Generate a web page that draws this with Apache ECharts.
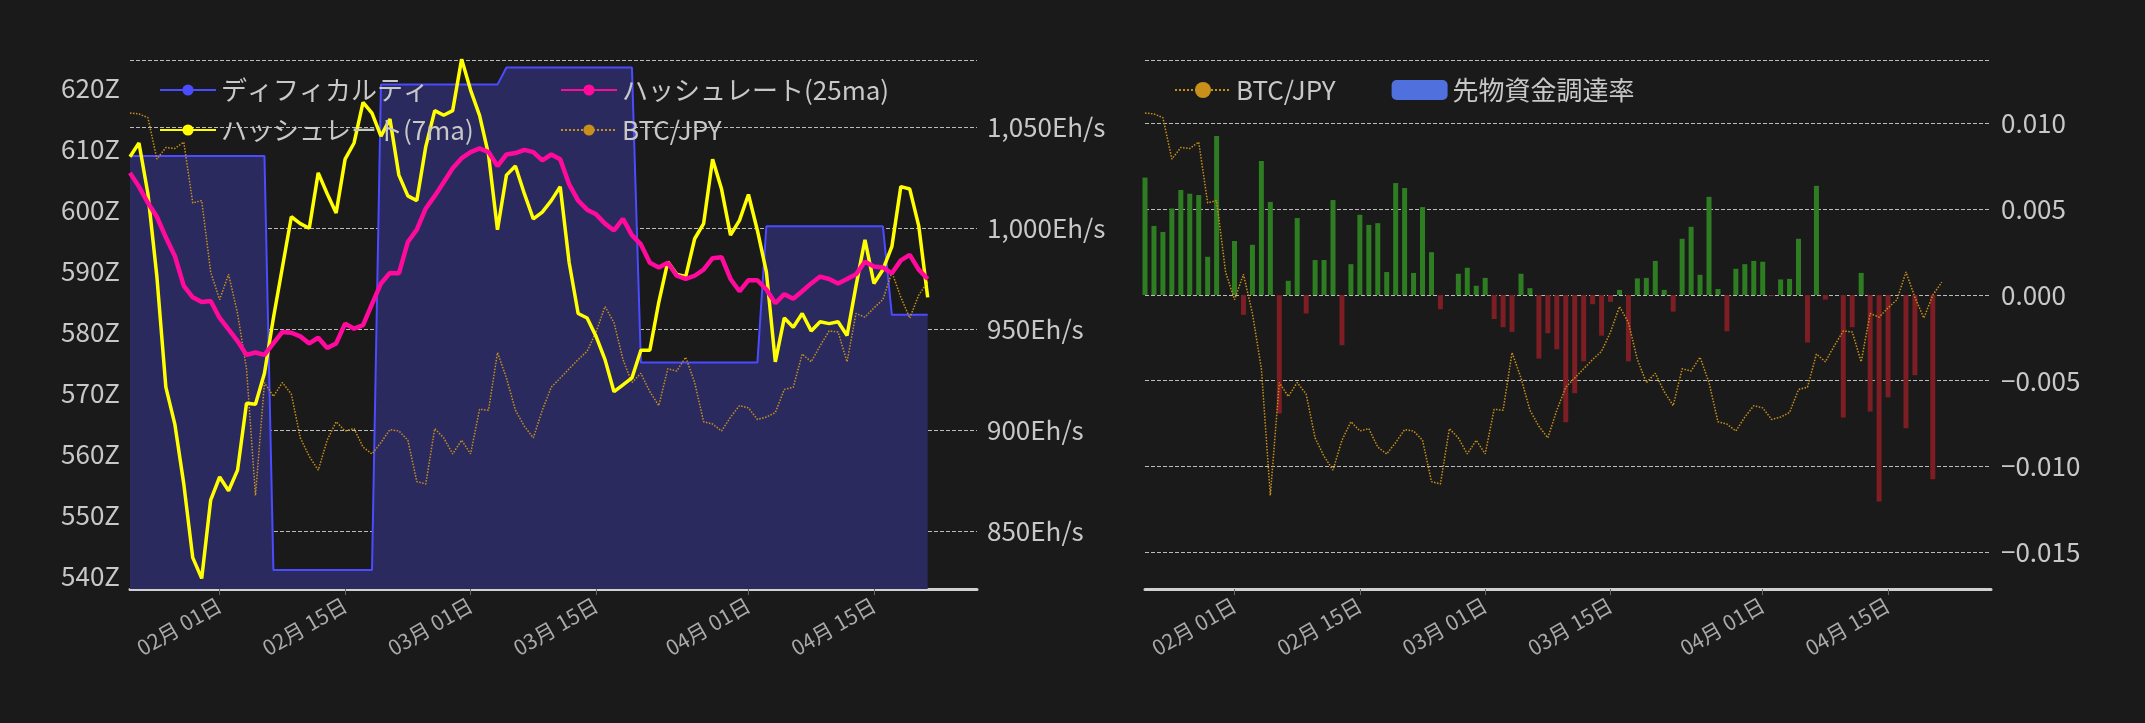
<!DOCTYPE html>
<html><head><meta charset="utf-8">
<script src="https://cdn.jsdelivr.net/npm/echarts@6/dist/echarts.min.js"></script>
<style>html,body{margin:0;background:#1a1a1a}#c{width:2145px;height:723px}</style>
</head><body><div id="c"></div>
<script>
const startDate = Date.UTC(2023,0,22);
const tickDates = ['2023-02-01','2023-02-15','2023-03-01','2023-03-15','2023-04-01','2023-04-15'];
const difficulty = [608.8,608.8,608.8,608.8,608.8,608.8,608.8,608.8,608.8,608.8,608.8,608.8,608.8,608.8,608.8,608.8,
541.0,541.0,541.0,541.0,541.0,541.0,541.0,541.0,541.0,541.0,541.0,541.0,
620.5,620.5,620.5,620.5,620.5,620.5,620.5,620.5,620.5,620.5,620.5,620.5,620.5,620.5,
623.3,623.3,623.3,623.3,623.3,623.3,623.3,623.3,623.3,623.3,623.3,623.3,623.3,623.3,623.3,
575.0,575.0,575.0,575.0,575.0,575.0,575.0,575.0,575.0,575.0,575.0,575.0,575.0,575.0,
597.3,597.3,597.3,597.3,597.3,597.3,597.3,597.3,597.3,597.3,597.3,597.3,597.3,597.3,
582.8,582.8,582.8,582.8,582.8];
const hash7 = [1035.2,1042.0,1016.9,975.9,921.2,902.9,873.3,836.8,826.5,865.3,876.7,869.9,880.1,913.2,912.7,928.0,955.4,980.4,1005.5,1002.1,999.8,1027.2,1016.9,1007.4,1034.0,1042.0,1062.1,1056.8,1045.4,1053.9,1026.1,1015.8,1013.5,1040.2,1058.0,1055.7,1058.0,1083.5,1068.2,1055.7,1036.3,999.1,1026.1,1030.6,1016.9,1004.4,1007.8,1013.5,1020.4,982.7,957.6,955.4,946.3,934.8,918.9,922.3,925.7,939.4,939.4,963.3,983.2,977.0,975.9,994.6,1002.1,1034.0,1019.2,996.4,1003.7,1016.5,998.7,978.2,933.7,955.4,950.8,957.6,949.0,953.5,952.6,953.5,946.7,971.3,994.1,972.5,979.3,990.7,1020.4,1019.2,1001.0,965.6];
const hash25 = [1027.2,1020.4,1012.4,1005.5,995.3,986.1,971.3,965.6,963.3,963.8,955.4,949.7,944.0,937.1,938.3,937.1,942.8,948.5,948.1,946.3,942.8,945.6,940.5,942.8,952.6,950.1,951.9,962.2,972.5,977.7,977.5,993.0,999.1,1009.6,1015.8,1022.6,1029.5,1034.5,1037.5,1039.3,1037.5,1030.6,1036.3,1037.0,1038.6,1037.5,1033.4,1036.3,1034.0,1021.5,1013.5,1009.0,1006.7,1002.1,998.7,1004.4,996.4,991.8,982.7,980.4,982.7,976.3,974.7,976.3,979.3,985.0,985.5,974.7,968.6,974.1,974.1,969.5,962.7,967.2,964.9,968.6,972.5,975.9,974.7,972.5,974.7,977.0,983.2,980.9,980.4,977.5,983.9,986.6,979.3,974.7];
const btcjpy = [3299000,3298000,3294000,3249500,3261900,3260900,3267800,3202400,3204900,3128200,3098500,3125700,3083600,3024200,2888100,3009400,2994500,3009400,2997000,2950000,2930200,2915300,2947500,2967300,2957400,2959900,2940100,2932700,2945000,2958900,2957400,2947500,2903000,2900500,2959900,2950000,2932700,2947500,2932700,2980700,2979700,3041600,3014300,2979700,2962400,2950000,2979700,3004400,3014300,3024200,3034100,3043000,3063800,3091100,3073800,3034100,3009400,3019300,2999500,2984600,3024200,3021800,3036600,3009400,2967300,2964800,2957400,2972300,2984600,2982200,2969800,2972300,2977200,3002000,3004400,3040100,3031700,3049000,3064800,3063800,3031700,3083600,3079700,3089600,3098500,3128200,3101000,3078700,3103400,3117300];
const funding = [0.00685,0.00403,0.00368,0.00505,0.00613,0.00591,0.00583,0.00223,0.00927,0,0.00315,-0.00116,0.00293,0.00782,0.00543,-0.00691,0.00083,0.00449,-0.00108,0.00204,0.00204,0.00554,-0.00293,0.0018,0.00468,0.00409,0.00419,0.00134,0.00653,0.00624,0.00129,0.00513,0.0025,-0.00083,0,0.00124,0.00159,0.00054,0.001,-0.0014,-0.00188,-0.00215,0.00124,0.0004,-0.00371,-0.00223,-0.00317,-0.00742,-0.00573,-0.00387,-0.00054,-0.00237,-0.0004,0.0003,-0.00387,0.00097,0.001,0.00199,0.0003,-0.00097,0.00328,0.00398,0.00118,0.00573,0.00035,-0.00212,0.00153,0.0018,0.00199,0.00194,-0.00005,0.00091,0.00094,0.00328,-0.00277,0.00637,-0.00027,0,-0.00715,-0.00188,0.00129,-0.0068,-0.01204,-0.00597,0,-0.00777,-0.00468,0,-0.01075,0];

const DAY = 86400000;
// x is day number counted from startDate
const pair = arr => arr.map((v, i) => [i, v]);
const ticks = tickDates.map(s => (Date.parse(s + 'T00:00:00Z') - startDate) / DAY);
const xMin = 0, xMax = 94.5;
const fmt = v => { const d = new Date(startDate + v*DAY); const p = n => String(n).padStart(2,'0'); return p(d.getUTCMonth()+1) + '月 ' + p(d.getUTCDate()) + '日'; };
const txt = '#c8c8c8', font = 'Noto Sans CJK JP';
const xAx = gi => ({type:'value', gridIndex:gi, min:xMin, max:xMax,
  axisLine:{show:true, onZero:false, lineStyle:{color:'#d0d0d0', width:3}},
  axisTick:{show:true, customValues:ticks, length:6, lineStyle:{color:'#666'}},
  axisLabel:{customValues:ticks, formatter:fmt, rotate:30, color:'#aaaaaa', fontSize:21, fontFamily:font, margin:14},
  splitLine:{show:false}});
const split = {show:true, lineStyle:{color:'#bbbbbb', type:'dashed', width:1}};
const legText = {color:txt, fontSize:26, fontFamily:font};
const leg = (name, left, top) => ({data:[name], left, top, itemWidth:56, itemHeight:14, textStyle:legText, itemGap:0});

const chart = echarts.init(document.getElementById('c'));
chart.setOption({
  backgroundColor:'#1a1a1a',
  animation:false,
  textStyle:{fontFamily:font},
  grid:[{left:130, right:1168, top:60, bottom:134}, {left:1145, right:154, top:60, bottom:134}],
  legend:[leg('ディフィカルティ',154,72), leg('ハッシュレート(25ma)',555,72), leg('ハッシュレート(7ma)',154,112), leg('BTC/JPY',555,112),
    {data:['BTC/JPY','先物資金調達率'], left:1169, top:72, itemWidth:56, itemHeight:20, itemGap:56, textStyle:legText}],
  xAxis:[xAx(0), xAx(1)],
  yAxis:[
    {type:'value', gridIndex:0, position:'left', min:537.89, max:624.53,
      axisLine:{show:false}, axisTick:{show:false}, splitLine:{show:false},
      axisLabel:{color:txt, fontSize:26, fontFamily:font, margin:10, customValues:[540,550,560,570,580,590,600,610,620], formatter: v => v+'Z'}},
    {type:'value', gridIndex:0, position:'right', min:821.27, max:1083.07,
      axisLine:{show:false}, axisTick:{show:false}, splitLine:split,
      axisLabel:{color:txt, fontSize:26, fontFamily:font, margin:10, customValues:[850,900,950,1000,1050], formatter: v => v.toLocaleString('en-US')+'Eh/s'}},
    {type:'value', gridIndex:0, position:'right', min:2787620, max:3355940, show:false},
    {type:'value', gridIndex:1, position:'right', min:-0.01715, max:0.01371,
      axisLine:{show:false}, axisTick:{show:false}, splitLine:split,
      axisLabel:{color:txt, fontSize:26, fontFamily:font, margin:10, customValues:[-0.015,-0.01,-0.005,0,0.005,0.01],
        formatter: v => (v<0?'−':'') + Math.abs(v).toFixed(3)}},
    {type:'value', gridIndex:1, position:'left', min:2787620, max:3355940, show:false}
  ],
  series:[
    {name:'ディフィカルティ', type:'line', xAxisIndex:0, yAxisIndex:0, data:pair(difficulty), symbol:'none',
      lineStyle:{color:'#4b4bff', width:2}, itemStyle:{color:'#4b4bff'}, areaStyle:{color:'#2a2a5e', opacity:1, origin:'start'}, z:1},
    {name:'BTC/JPY', type:'line', xAxisIndex:0, yAxisIndex:2, data:pair(btcjpy), symbol:'none',
      lineStyle:{color:'#c8901a', width:1.5, type:'dotted'}, itemStyle:{color:'#c8901a'}, z:2},
    {name:'ハッシュレート(7ma)', type:'line', xAxisIndex:0, yAxisIndex:1, data:pair(hash7), symbol:'none',
      lineStyle:{color:'#ffff00', width:3.5}, itemStyle:{color:'#ffff00'}, z:3},
    {name:'ハッシュレート(25ma)', type:'line', xAxisIndex:0, yAxisIndex:1, data:pair(hash25), symbol:'none',
      lineStyle:{color:'#ff0a9c', width:4.5}, itemStyle:{color:'#ff0a9c'}, z:4},
    {name:'先物資金調達率', type:'bar', xAxisIndex:1, yAxisIndex:3, data:pair(funding), barWidth:5,
      itemStyle:{color: p => p.value[1] >= 0 ? '#2e7d22' : '#7d1d24'}, z:1},
    {name:'BTC/JPY', type:'line', xAxisIndex:1, yAxisIndex:4, data:pair(btcjpy), symbol:'none',
      lineStyle:{color:'#c8901a', width:1.5, type:'dotted'}, itemStyle:{color:'#c8901a'}, z:2}
  ]
});
</script></body></html>
